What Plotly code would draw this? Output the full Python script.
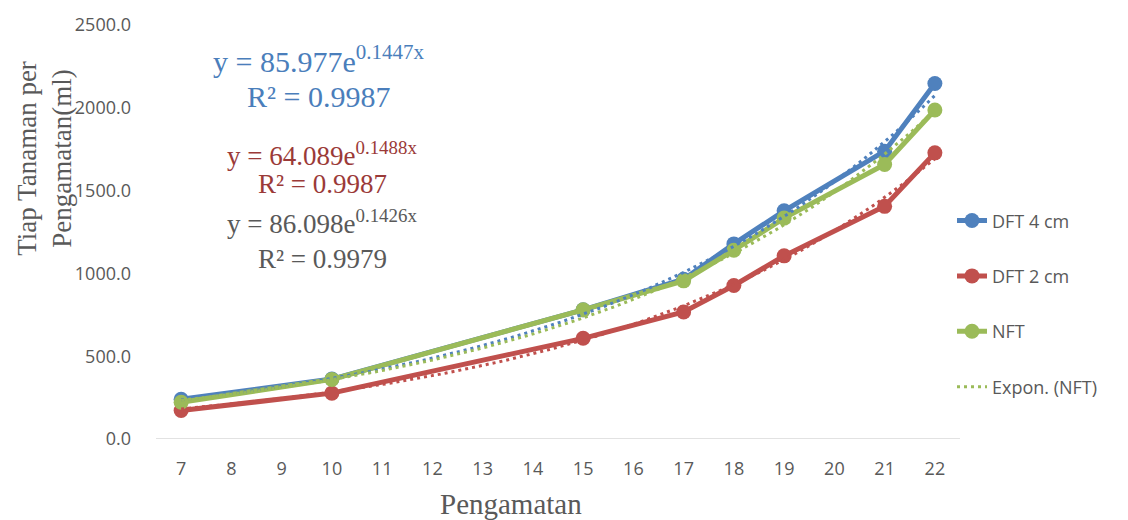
import numpy as np
import plotly.graph_objects as go

# Observation days and measured volumes (ml) per plant
days = [7, 10, 15, 17, 18, 19, 21, 22]
dft4 = [240, 362, 780, 965, 1178, 1378, 1738, 2147]
dft2 = [172, 277, 608, 767, 927, 1106, 1405, 1728]
nft = [222, 360, 780, 955, 1140, 1334, 1658, 1987]

series_names = ["DFT 4 cm", "DFT 2 cm", "NFT"]
series_colors = ["#4F81BD", "#C0504D", "#9BBB59"]
label_colors = ["#4A7EBB", "#9B3A38", "#595959"]

# Exponential trendline fits y = a * e^(b x)
fit_a = [85.977, 64.089, 86.098]
fit_b = [0.1447, 0.1488, 0.1426]
fit_r2 = [0.9987, 0.9987, 0.9979]

x_ticks = list(range(7, 23))
y_ticks = [0, 500, 1000, 1500, 2000, 2500]

fig = go.Figure()

for name, vals, col in zip(series_names, [dft4, dft2, nft], series_colors):
    fig.add_trace(go.Scatter(
        x=days, y=vals, name=name, mode="lines+markers",
        line=dict(color=col, width=5),
        marker=dict(color=col, size=15, symbol="circle"),
        legendgroup=name,
    ))

xs = np.linspace(days[0], days[-1], 200)
for i, (a, b, col) in enumerate(zip(fit_a, fit_b, series_colors)):
    fig.add_trace(go.Scatter(
        x=xs, y=a * np.exp(b * xs), mode="lines",
        name="Expon. (NFT)" if i == 2 else f"Expon. ({series_names[i]})",
        line=dict(color=col, width=3, dash="3px,4px"),
        showlegend=(i == 2),
        legendgroup="trend" + str(i),
        hoverinfo="skip",
    ))

W, H = 1128, 520
L, R, T, B = 156, 168, 21, 81
pw, ph = W - L - R, H - T - B


def px(xp):
    return (xp - L) / pw


def py(yp):
    return (H - B - yp) / ph


annotations = []
eq_pos = [(318, 55, 93, 30), (322, 151, 182, 27), (322, 220, 257, 27)]
for (cx, y1, y2, fs), a, b, r2, col in zip(eq_pos, fit_a, fit_b, fit_r2, label_colors):
    annotations.append(dict(
        x=px(cx), y=py(y1), xref="paper", yref="paper", showarrow=False,
        text=f"y = {a:.3f}e<sup>{b:.4f}x</sup>",
        font=dict(family="Liberation Serif", size=fs, color=col),
        xanchor="center", yanchor="middle",
    ))
    annotations.append(dict(
        x=px(cx), y=py(y2), xref="paper", yref="paper", showarrow=False,
        text=f"R² = {r2:.4f}",
        font=dict(family="Liberation Serif", size=fs, color=col),
        xanchor="center", yanchor="middle",
    ))

annotations.append(dict(
    x=px(45), y=py(155), xref="paper", yref="paper", showarrow=False,
    text="Tiap Tanaman per<br>Pengamatan(ml)", textangle=-90,
    font=dict(family="Liberation Serif", size=27, color="#595959"),
    xanchor="center", yanchor="middle",
))
annotations.append(dict(
    x=px(511), y=py(505), xref="paper", yref="paper", showarrow=False,
    text="Pengamatan",
    font=dict(family="Liberation Serif", size=29, color="#595959"),
    xanchor="center", yanchor="middle",
))

fig.update_layout(
    width=W, height=H,
    margin=dict(l=L, r=R, t=T, b=B),
    paper_bgcolor="white", plot_bgcolor="white",
    showlegend=True,
    legend=dict(
        x=px(952), y=py(200), xanchor="left", yanchor="top",
        font=dict(family="Open Sans", size=18, color="#595959"),
        tracegroupgap=29, bgcolor="rgba(0,0,0,0)",
    ),
    annotations=annotations,
    xaxis=dict(
        range=[6.5, 22.5], tickmode="array", tickvals=x_ticks,
        ticktext=[str(v) for v in x_ticks],
        showgrid=False, zeroline=False, showline=False, ticks="",
        tickfont=dict(family="Open Sans", size=18, color="#595959"),
        ticklabelstandoff=17,
    ),
    yaxis=dict(
        range=[0, 2500], tickmode="array", tickvals=y_ticks,
        ticktext=[f"{v:.1f}" for v in y_ticks],
        showgrid=False, zeroline=False, showline=False, ticks="",
        tickfont=dict(family="Open Sans", size=18, color="#595959"),
        ticklabelstandoff=24,
    ),
    shapes=[dict(
        type="line", xref="paper", yref="y", x0=0, x1=1, y0=0, y1=0,
        line=dict(color="#D9D9D9", width=1.5), layer="below",
    )],
)

fig.write_html("out.html")
